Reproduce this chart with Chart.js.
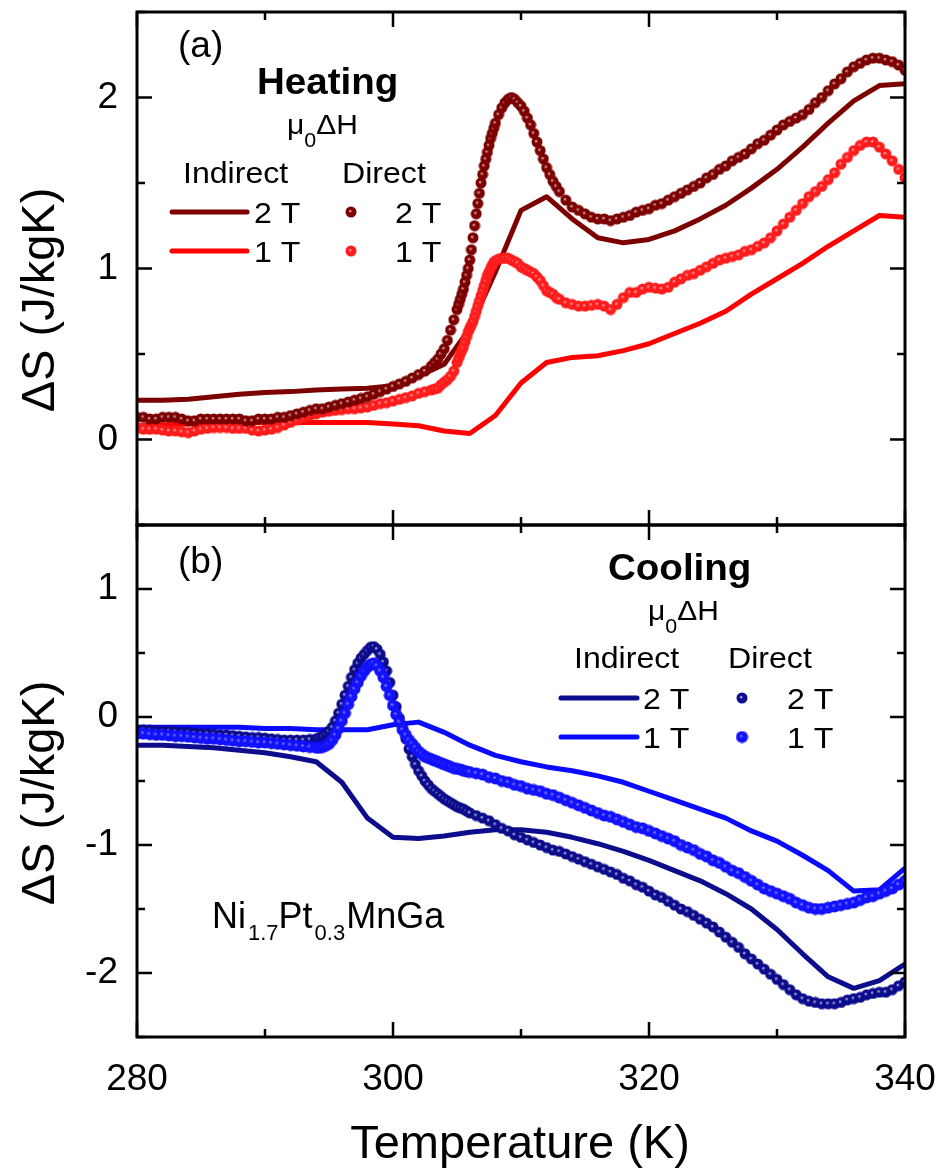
<!DOCTYPE html>
<html>
<head>
<meta charset="utf-8">
<script src="https://cdn.jsdelivr.net/npm/chart.js@4/dist/chart.umd.min.js"></script>
<style>
  html, body { margin: 0; padding: 0; background: #fff; }
  #wrap { position: relative; width: 943px; height: 1171px; background: #fff; }
  #wrap canvas { position: absolute; left: 0; top: 0; }
</style>
</head>
<body>
<div id="wrap">
  <canvas id="heatChart" width="943" height="1171"></canvas>
  <canvas id="coolChart" width="943" height="1171"></canvas>
</div>
<script>
// ---- data ----
// direct measurements, heating (K, J/kgK)
const heatT = [
  280,280.5,281,281.5,282,282.5,283,283.5,284,284.5,285,285.5,286,286.5,287,287.5,288,288.5,289,289.5,
  290,290.5,291,291.5,292,292.5,293,293.5,294,294.5,295,295.5,296,296.5,297,297.5,298,298.5,299,299.5,
  300,300.5,301,301.5,302,302.5,
  303,303.25,303.5,303.75,304,304.25,304.5,304.75,
  305,305.125,305.25,305.375,305.5,305.625,305.75,305.875,306,306.125,306.25,306.375,306.5,306.625,306.75,306.875,
  307,307.125,307.25,307.375,307.5,307.625,307.75,307.875,
  308,308.25,308.5,308.75,309,309.25,309.5,309.75,310,310.25,310.5,310.75,311,311.25,311.5,311.75,312,312.25,312.5,312.75,
  313,313.5,314,314.5,315,315.5,316,316.5,317,317.5,318,318.5,319,319.5,320,320.5,321,321.5,322,322.5,
  323,323.5,324,324.5,325,325.5,326,326.5,327,327.5,328,328.5,329,329.5,330,330.5,331,331.5,332,332.5,
  333,333.5,334,334.5,335,335.5,336,336.5,337,337.5,338,338.5,339,339.5,340
];
const heatDirect2T = [
  .13,.13,.12,.12,.13,.13,.13,.12,.11,.11,.12,.12,.12,.12,.12,.12,.12,.11,.11,.12,
  .12,.12,.13,.13,.14,.15,.16,.17,.18,.18,.19,.20,.21,.22,.23,.24,.25,.265,.28,.295,
  .31,.325,.34,.36,.38,.40,
  .43,.45,.47,.50,.53,.58,.64,.70,
  .76,.79,.82,.85,.88,.92,.96,1.00,1.05,1.11,1.18,1.25,1.32,1.38,1.44,1.50,
  1.55,1.60,1.64,1.68,1.72,1.76,1.79,1.82,
  1.85,1.90,1.94,1.97,1.99,2.00,1.99,1.97,1.95,1.92,1.88,1.84,1.79,1.74,1.69,1.64,1.59,1.55,1.51,1.48,
  1.45,1.40,1.36,1.34,1.32,1.30,1.29,1.29,1.28,1.29,1.30,1.31,1.33,1.34,1.35,1.37,1.38,1.40,1.42,1.44,
  1.46,1.48,1.50,1.53,1.55,1.58,1.60,1.63,1.65,1.67,1.70,1.73,1.75,1.78,1.81,1.84,1.86,1.88,1.90,1.93,
  1.97,2.00,2.04,2.08,2.11,2.15,2.18,2.20,2.22,2.23,2.23,2.22,2.21,2.19,2.16
];
const heatDirect1T = [
  .065,.06,.06,.06,.055,.05,.05,.045,.04,.05,.06,.065,.07,.07,.07,.065,.065,.065,.055,.05,
  .055,.06,.07,.085,.10,.115,.13,.14,.15,.16,.165,.17,.175,.18,.18,.185,.19,.20,.21,.215,
  .225,.235,.245,.255,.27,.28,
  .29,.295,.30,.32,.335,.35,.37,.40,
  .45,.475,.50,.52,.54,.57,.60,.63,.65,.67,.69,.72,.75,.78,.81,.84,
  .87,.90,.93,.96,.98,1.00,1.02,1.035,
  1.045,1.055,1.06,1.06,1.06,1.05,1.04,1.03,1.01,1.00,.99,.98,.97,.95,.93,.90,.87,.86,.85,.83,
  .82,.80,.79,.78,.78,.785,.79,.78,.76,.79,.83,.86,.86,.88,.89,.885,.88,.89,.92,.94,
  .96,.97,.99,1.01,1.03,1.05,1.06,1.07,1.08,1.10,1.11,1.13,1.15,1.18,1.22,1.26,1.30,1.34,1.38,1.42,
  1.45,1.48,1.52,1.56,1.61,1.65,1.69,1.72,1.74,1.74,1.71,1.67,1.63,1.58,1.53
];

// direct measurements, cooling
const coolT = [
  280,280.5,281,281.5,282,282.5,283,283.5,284,284.5,285,285.5,286,286.5,287,287.5,288,288.5,289,289.5,
  290,290.5,291,291.5,292,292.5,293,293.5,
  294,294.25,294.5,294.75,295,295.25,295.5,295.75,296,296.25,296.5,296.75,297,297.25,297.5,297.75,
  298,298.25,298.5,298.75,299,299.25,299.5,299.75,300,300.25,300.5,300.75,301,301.25,301.5,301.75,
  302,302.25,302.5,302.75,303,303.25,303.5,303.75,304,304.25,304.5,304.75,305,305.25,305.5,305.75,
  306,306.5,307,307.5,308,308.5,309,309.5,310,310.5,311,311.5,312,312.5,313,313.5,314,314.5,315,315.5,
  316,316.5,317,317.5,318,318.5,319,319.5,320,320.5,321,321.5,322,322.5,323,323.5,324,324.5,325,325.5,
  326,326.5,327,327.5,328,328.5,329,329.5,330,330.5,331,331.5,332,332.5,333,333.5,334,334.5,335,335.5,
  336,336.5,337,337.5,338,338.5,339,339.5,340
];
const coolDirect2T = [
  -.10,-.10,-.105,-.11,-.11,-.11,-.115,-.12,-.12,-.125,-.13,-.13,-.135,-.14,-.14,-.145,-.15,-.155,-.16,-.16,
  -.165,-.17,-.175,-.18,-.18,-.18,-.18,-.175,
  -.17,-.16,-.15,-.13,-.11,-.08,-.03,.03,.10,.17,.24,.31,.37,.42,.46,.49,
  .52,.545,.55,.53,.49,.43,.36,.27,.17,.08,-.01,-.09,-.17,-.25,-.31,-.37,
  -.42,-.46,-.50,-.53,-.56,-.58,-.60,-.62,-.64,-.655,-.67,-.685,-.70,-.71,-.72,-.735,
  -.75,-.77,-.79,-.81,-.84,-.87,-.89,-.92,-.94,-.96,-.98,-1.00,-1.02,-1.04,-1.05,-1.07,-1.09,-1.11,-1.13,-1.15,
  -1.17,-1.19,-1.21,-1.23,-1.26,-1.28,-1.31,-1.33,-1.36,-1.39,-1.41,-1.44,-1.47,-1.50,-1.52,-1.55,-1.58,-1.61,-1.64,-1.68,
  -1.72,-1.76,-1.80,-1.85,-1.89,-1.93,-1.97,-2.01,-2.05,-2.09,-2.13,-2.17,-2.20,-2.22,-2.23,-2.24,-2.24,-2.24,-2.23,-2.21,
  -2.20,-2.19,-2.17,-2.16,-2.15,-2.15,-2.13,-2.10,-2.07
];
const coolDirect1T = [
  -.13,-.13,-.135,-.14,-.14,-.145,-.15,-.15,-.155,-.16,-.165,-.17,-.17,-.175,-.18,-.185,-.19,-.19,-.195,-.20,
  -.20,-.205,-.21,-.215,-.22,-.225,-.23,-.235,
  -.24,-.24,-.235,-.225,-.21,-.18,-.14,-.09,-.03,.03,.10,.16,.22,.27,.32,.36,
  .39,.41,.42,.40,.36,.31,.24,.17,.09,.02,-.04,-.10,-.14,-.18,-.21,-.24,
  -.27,-.29,-.31,-.32,-.33,-.34,-.35,-.36,-.37,-.38,-.39,-.40,-.405,-.41,-.42,-.425,
  -.43,-.44,-.45,-.47,-.48,-.50,-.51,-.53,-.54,-.56,-.57,-.58,-.60,-.61,-.63,-.65,-.67,-.69,-.71,-.73,
  -.75,-.77,-.78,-.80,-.82,-.84,-.86,-.87,-.89,-.91,-.93,-.95,-.97,-1.00,-1.02,-1.04,-1.07,-1.09,-1.12,-1.14,
  -1.17,-1.20,-1.22,-1.25,-1.28,-1.31,-1.34,-1.36,-1.38,-1.40,-1.42,-1.45,-1.47,-1.49,-1.50,-1.50,-1.49,-1.48,-1.47,-1.46,
  -1.45,-1.43,-1.41,-1.40,-1.38,-1.36,-1.34,-1.31,-1.28
];

// indirect (from magnetization), every 2 K
const indT = [280,282,284,286,288,290,292,294,296,298,300,302,304,306,308,310,312,314,316,318,320,322,324,326,328,330,332,334,336,338,340];
const heatIndirect2T = [.23,.23,.235,.25,.265,.275,.28,.29,.295,.30,.315,.37,.44,.65,.98,1.34,1.42,1.29,1.18,1.15,1.17,1.22,1.29,1.37,1.47,1.58,1.71,1.85,1.98,2.07,2.08];
const heatIndirect1T = [.08,.085,.09,.095,.10,.10,.10,.10,.10,.10,.09,.08,.05,.035,.14,.33,.45,.48,.49,.52,.56,.62,.68,.75,.85,.94,1.03,1.13,1.22,1.31,1.30];
const coolIndirect2T = [-.22,-.22,-.23,-.24,-.26,-.28,-.31,-.35,-.51,-.79,-.94,-.95,-.93,-.90,-.88,-.88,-.90,-.94,-.99,-1.05,-1.12,-1.20,-1.28,-1.38,-1.50,-1.66,-1.85,-2.03,-2.12,-2.06,-1.93];
const coolIndirect1T = [-.08,-.08,-.08,-.08,-.08,-.09,-.09,-.10,-.10,-.10,-.06,-.04,-.12,-.22,-.30,-.35,-.39,-.42,-.46,-.51,-.58,-.65,-.72,-.79,-.89,-.97,-1.08,-1.20,-1.36,-1.35,-1.18];

// ticks
const xTicks = [280, 290, 300, 310, 320, 330, 340];
const xMajor = [280, 300, 320, 340];
const heatYTicks = [-0.5, 0, 0.5, 1, 1.5, 2, 2.5];
const coolYTicks = [-2.5, -2, -1.5, -1, -0.5, 0, 0.5, 1, 1.5];

const FONT = "'Liberation Sans', Arial, Helvetica, sans-serif";
Chart.defaults.font.family = FONT;
Chart.defaults.color = '#000';

const DARKRED = '#7c0000', RED = '#ff0000', NAVY = '#0c0c8c', BLUE = '#0a0aff';

// shaded ball used as point style
function ball(base, light, r) {
  const d = Math.ceil(r * 2) + 1;
  const c = document.createElement('canvas');
  c.width = c.height = d;
  const g = c.getContext('2d');
  const cx = d / 2, cy = d / 2;
  const gr = g.createRadialGradient(cx - r * 0.2, cy - r * 0.2, 0, cx, cy, r);
  gr.addColorStop(0, light);
  gr.addColorStop(0.35, base);
  gr.addColorStop(1, base);
  g.fillStyle = gr;
  g.beginPath();
  g.arc(cx, cy, r, 0, Math.PI * 2);
  g.fill();
  return c;
}
const ballHeat2 = ball(DARKRED, '#f0d6d6', 5.5);
const ballHeat1 = ball('#ff1c1c', '#ffc4c4', 5.5);
const ballCool2 = ball(NAVY, '#dcdcf4', 5.5);
const ballCool1 = ball('#1212ff', '#8c8cff', 6);

const pts = (xs, ys) => xs.map((x, i) => ({ x: x, y: ys[i] }));

function lineSet(label, xs, ys, color) {
  return { label, data: pts(xs, ys), showLine: true, borderColor: color, borderWidth: 5,
           pointRadius: 0, tension: 0, order: 2, borderJoinStyle: 'round' };
}
function dotSet(label, xs, ys, img) {
  return { label, data: pts(xs, ys), showLine: false, pointStyle: img, pointRadius: 5,
           borderWidth: 0, order: 1 };
}

function text(ctx, s, x, y, size, o = {}) {
  ctx.save();
  ctx.font = (o.bold ? 'bold ' : '') + size + 'px ' + FONT;
  ctx.fillStyle = '#000';
  ctx.textBaseline = 'alphabetic';
  ctx.textAlign = o.align || 'left';
  ctx.translate(x, y);
  if (o.rot) ctx.rotate(o.rot);
  if (o.sx) ctx.scale(o.sx, 1);
  ctx.fillText(s, 0, 0);
  const w = ctx.measureText(s).width * (o.sx || 1);
  ctx.restore();
  return w;
}

// legend block: Heating / Cooling, mu0 dH, Indirect / Direct
function legend(ctx, L) {
  const sx = 1.07;
  text(ctx, L.title, L.titleX, L.titleY, 36, { bold: true, sx });
  let x = L.muX;
  x += text(ctx, 'μ', x, L.muY, 28, { sx });
  x += text(ctx, '0', x, L.muY + 13, 20, { sx });
  text(ctx, 'ΔH', x, L.muY, 28, { sx });
  text(ctx, 'Indirect', L.indX, L.headY, 30, { sx });
  text(ctx, 'Direct', L.dirX, L.headY, 30, { sx });
  ctx.save();
  ctx.lineWidth = 5;
  ctx.lineCap = 'round';
  [[L.c2, L.row1], [L.c1, L.row2]].forEach(([c, y]) => {
    ctx.strokeStyle = c;
    ctx.beginPath();
    ctx.moveTo(L.lineX0, y);
    ctx.lineTo(L.lineX1, y);
    ctx.stroke();
  });
  ctx.restore();
  ctx.drawImage(L.b2, L.dotX - L.b2.width / 2, L.row1 - L.b2.height / 2);
  ctx.drawImage(L.b1, L.dotX - L.b1.width / 2, L.row2 - L.b1.height / 2);
  text(ctx, '2 T', L.indTX, L.row1 + 11, 30, { sx });
  text(ctx, '1 T', L.indTX, L.row2 + 11, 30, { sx });
  text(ctx, '2 T', L.dirTX, L.row1 + 11, 30, { sx });
  text(ctx, '1 T', L.dirTX, L.row2 + 11, 30, { sx });
}

// frame with inward ticks on all four sides, plus the panel's texts
function framePlugin(yTicks, annotate) {
  return {
    id: 'frame',
    afterDatasetsDraw(chart) {
      const { ctx, chartArea: a } = chart;
      const xs = chart.scales.x, ys = chart.scales.y;
      ctx.save();
      ctx.strokeStyle = '#000';
      ctx.lineWidth = 2.5;
      ctx.beginPath();
      xTicks.forEach(v => {
        const p = xs.getPixelForValue(v);
        const len = xMajor.includes(v) ? 15 : 8;
        ctx.moveTo(p, a.bottom); ctx.lineTo(p, a.bottom - len);
        ctx.moveTo(p, a.top); ctx.lineTo(p, a.top + len);
      });
      yTicks.forEach(v => {
        const p = ys.getPixelForValue(v);
        const len = Number.isInteger(v) ? 15 : 8;
        ctx.moveTo(a.left, p); ctx.lineTo(a.left + len, p);
        ctx.moveTo(a.right, p); ctx.lineTo(a.right - len, p);
      });
      ctx.stroke();
      ctx.lineWidth = 3;
      ctx.strokeRect(a.left, a.top, a.right - a.left, a.bottom - a.top);
      ctx.restore();
      annotate(ctx, chart);
    }
  };
}

function yAxis(min, max) {
  return {
    type: 'linear', min, max,
    afterFit: s => { s.width = 137; s.paddingTop = 0; s.paddingBottom = 0; },
    grid: { display: false, drawTicks: false },
    border: { display: false },
    ticks: { stepSize: 0.5, padding: 19, autoSkip: false, color: '#000', font: { size: 37 },
             callback: v => Number.isInteger(v) ? String(v) : '' }
  };
}

const heatChart = new Chart(document.getElementById('heatChart'), {
  type: 'scatter',
  data: {
    datasets: [
      dotSet('Direct 2 T', heatT, heatDirect2T, ballHeat2),
      dotSet('Direct 1 T', heatT, heatDirect1T, ballHeat1),
      lineSet('Indirect 2 T', indT, heatIndirect2T, DARKRED),
      lineSet('Indirect 1 T', indT, heatIndirect1T, RED)
    ]
  },
  options: {
    responsive: false, animation: false, devicePixelRatio: 1, events: [],
    layout: { padding: { left: 0, right: 38, top: 12, bottom: 646 } },
    plugins: { legend: { display: false }, tooltip: { enabled: false } },
    scales: {
      x: { type: 'linear', min: 280, max: 340, display: false },
      y: yAxis(-0.5, 2.5)
    }
  },
  plugins: [framePlugin(heatYTicks, (ctx) => {
    text(ctx, 'ΔS (J/kgK)', 54, 300, 47, { align: 'center', rot: -Math.PI / 2 });
    text(ctx, '(a)', 178, 57, 37);
    legend(ctx, {
      title: 'Heating', titleX: 257, titleY: 94, muX: 287, muY: 134,
      indX: 183, dirX: 342, headY: 183, lineX0: 172, lineX1: 247, row1: 212, row2: 251,
      c2: DARKRED, c1: RED, b2: ballHeat2, b1: ballHeat1, dotX: 351, indTX: 254, dirTX: 395
    });
  })]
});

const coolChart = new Chart(document.getElementById('coolChart'), {
  type: 'scatter',
  data: {
    datasets: [
      dotSet('Direct 1 T', coolT, coolDirect1T, ballCool1),
      dotSet('Direct 2 T', coolT, coolDirect2T, ballCool2),
      lineSet('Indirect 2 T', indT, coolIndirect2T, NAVY),
      lineSet('Indirect 1 T', indT, coolIndirect1T, BLUE)
    ]
  },
  options: {
    responsive: false, animation: false, devicePixelRatio: 1, events: [],
    layout: { padding: { left: 0, right: 38, top: 525, bottom: 0 } },
    plugins: { legend: { display: false }, tooltip: { enabled: false } },
    scales: {
      x: {
        type: 'linear', min: 280, max: 340,
        afterFit: s => { s.height = 134; s.paddingLeft = 0; s.paddingRight = 0; },
        grid: { display: false, drawTicks: false },
        border: { display: false },
        ticks: { stepSize: 20, padding: 21, maxRotation: 0, autoSkip: false, color: '#000', font: { size: 37 } }
      },
      y: yAxis(-2.5, 1.5)
    }
  },
  plugins: [framePlugin(coolYTicks, (ctx) => {
    text(ctx, 'ΔS (J/kgK)', 54, 793, 47, { align: 'center', rot: -Math.PI / 2 });
    text(ctx, 'Temperature (K)', 520, 1158, 47, { align: 'center' });
    text(ctx, '(b)', 178, 573, 37);
    legend(ctx, {
      title: 'Cooling', titleX: 608, titleY: 580, muX: 648, muY: 620,
      indX: 574, dirX: 728, headY: 668, lineX0: 561, lineX1: 637, row1: 698, row2: 737,
      c2: NAVY, c1: BLUE, b2: ballCool2, b1: ballCool1, dotX: 742, indTX: 643, dirTX: 787
    });
    // compound label
    let x = 212;
    x += text(ctx, 'Ni', x, 928, 36);
    x += text(ctx, '1.7', x + 2, 940, 22);
    x += text(ctx, 'Pt', x + 2, 928, 36);
    x += text(ctx, '0.3', x + 4, 940, 22);
    text(ctx, 'MnGa', x + 5, 928, 36);
  })]
});
</script>
</body>
</html>
